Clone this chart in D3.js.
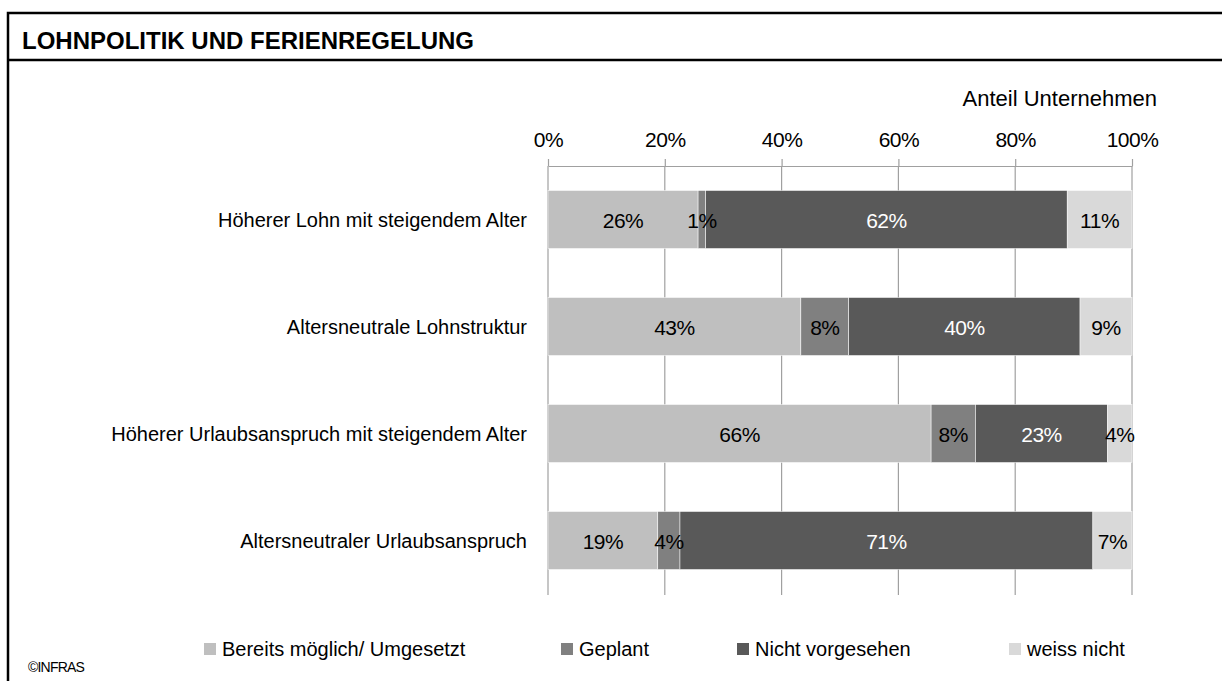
<!DOCTYPE html>
<html>
<head>
<meta charset="utf-8">
<script src="https://cdn.jsdelivr.net/npm/d3@7"></script>
<style>
  body { margin: 0; background: #fff; }
  svg { display: block; font-family: "Liberation Sans", Arial, sans-serif; }
</style>
</head>
<body>
<svg id="chart"></svg>
<script>
const width = 1222
const height = 681

// categories (top to bottom)
const categories = [
  "Höherer Lohn mit steigendem Alter",
  "Altersneutrale Lohnstruktur",
  "Höherer Urlaubsanspruch mit steigendem Alter",
  "Altersneutraler Urlaubsanspruch"
]

// series, shares in percent per category
const seriesNames = ["Bereits möglich/ Umgesetzt", "Geplant", "Nicht vorgesehen", "weiss nicht"]
const bereits = [25.7, 43.3, 65.6, 18.8]
const geplant = [1.3, 8.2, 7.6, 3.8]
const nicht = [61.9, 39.6, 22.6, 70.7]
const weissNicht = [11.1, 8.9, 4.2, 6.7]

const tickValues = [0, 20, 40, 60, 80, 100]

const colors = ["#bfbfbf", "#808080", "#595959", "#d9d9d9"]
const labelColors = ["#000", "#000", "#fff", "#000"]

// build table for the stack
const table = categories.map((c, i) => ({
  cat: c,
  [seriesNames[0]]: bereits[i],
  [seriesNames[1]]: geplant[i],
  [seriesNames[2]]: nicht[i],
  [seriesNames[3]]: weissNicht[i]
}))

const svg = d3.select("#chart")
  .attr("width", width)
  .attr("height", height)

svg.append("rect")
  .attr("width", width)
  .attr("height", height)
  .attr("fill", "#fff")

// frame + header
svg.append("path")
  .attr("d", `M8,${height + 5} V13 H${width + 5}`)
  .attr("fill", "none")
  .attr("stroke", "#000")
  .attr("stroke-width", 2.5)

svg.append("line")
  .attr("x1", 8).attr("x2", width + 5)
  .attr("y1", 60).attr("y2", 60)
  .attr("stroke", "#000")
  .attr("stroke-width", 2.5)

svg.append("text")
  .attr("x", 22)
  .attr("y", 49)
  .attr("font-size", 24)
  .attr("font-weight", "bold")
  .text("LOHNPOLITIK UND FERIENREGELUNG")

// scales
const x = d3.scaleLinear().domain([0, 100]).range([548, 1132])
const y = d3.scaleBand()
  .domain(categories)
  .range([166, 594])
  .paddingInner(0.458)
  .paddingOuter(0.229)

// gridlines
svg.append("g")
  .selectAll("line")
  .data(tickValues)
  .join("line")
  .attr("x1", d => x(d)).attr("x2", d => x(d))
  .attr("y1", 166).attr("y2", 595)
  .attr("stroke", "#a0a0a0")
  .attr("stroke-width", 1.2)

// top axis
const axis = svg.append("g")
  .attr("transform", "translate(0,166)")
  .call(d3.axisTop(x)
    .tickValues(tickValues)
    .tickFormat(d => d + "%")
    .tickSizeInner(7)
    .tickSizeOuter(0)
    .tickPadding(12))

axis.selectAll("path, line").attr("stroke", "#a0a0a0").attr("stroke-width", 1.2)
axis.selectAll("text")
  .attr("font-size", 21)
  .attr("font-family", "Liberation Sans, Arial, sans-serif")
  .attr("letter-spacing", -0.5)
  .attr("fill", "#000")

svg.append("text")
  .attr("x", 1157)
  .attr("y", 106)
  .attr("text-anchor", "end")
  .attr("font-size", 22)
  .text("Anteil Unternehmen")

// stacked bars
const stack = d3.stack().keys(seriesNames)
const layers = stack(table)

const layer = svg.append("g")
  .selectAll("g")
  .data(layers)
  .join("g")
  .attr("fill", (d, i) => colors[i])

layer.selectAll("rect")
  .data(d => d)
  .join("rect")
  .attr("x", d => x(d[0]))
  .attr("y", d => y(d.data.cat))
  .attr("width", d => x(d[1]) - x(d[0]))
  .attr("height", y.bandwidth())
  .attr("stroke", "#fff")
  .attr("stroke-width", 0.5)

// value labels
const labels = svg.append("g")
  .selectAll("g")
  .data(layers)
  .join("g")
  .attr("fill", (d, i) => labelColors[i])

labels.selectAll("text")
  .data(d => d)
  .join("text")
  .attr("x", d => (x(d[0]) + x(d[1])) / 2)
  .attr("y", d => y(d.data.cat) + y.bandwidth() / 2 + 8)
  .attr("text-anchor", "middle")
  .attr("font-size", 21)
  .attr("letter-spacing", -0.5)
  .text(d => Math.round(d[1] - d[0]) + "%")

// category labels
svg.append("g")
  .selectAll("text")
  .data(categories)
  .join("text")
  .attr("x", 527)
  .attr("y", d => y(d) + y.bandwidth() / 2 + 7)
  .attr("text-anchor", "end")
  .attr("font-size", 20)
  .text(d => d)

// legend
const legendX = [204, 561, 737, 1009]
const legend = svg.append("g")
  .selectAll("g")
  .data(seriesNames)
  .join("g")
  .attr("transform", (d, i) => `translate(${legendX[i]},643)`)

legend.append("rect")
  .attr("width", 12)
  .attr("height", 12)
  .attr("fill", (d, i) => colors[i])

legend.append("text")
  .attr("x", 18)
  .attr("y", 13)
  .attr("font-size", 20)
  .text(d => d)

svg.append("text")
  .attr("x", 28)
  .attr("y", 672)
  .attr("font-size", 14)
  .attr("letter-spacing", -0.8)
  .text("©INFRAS")
</script>
</body>
</html>
